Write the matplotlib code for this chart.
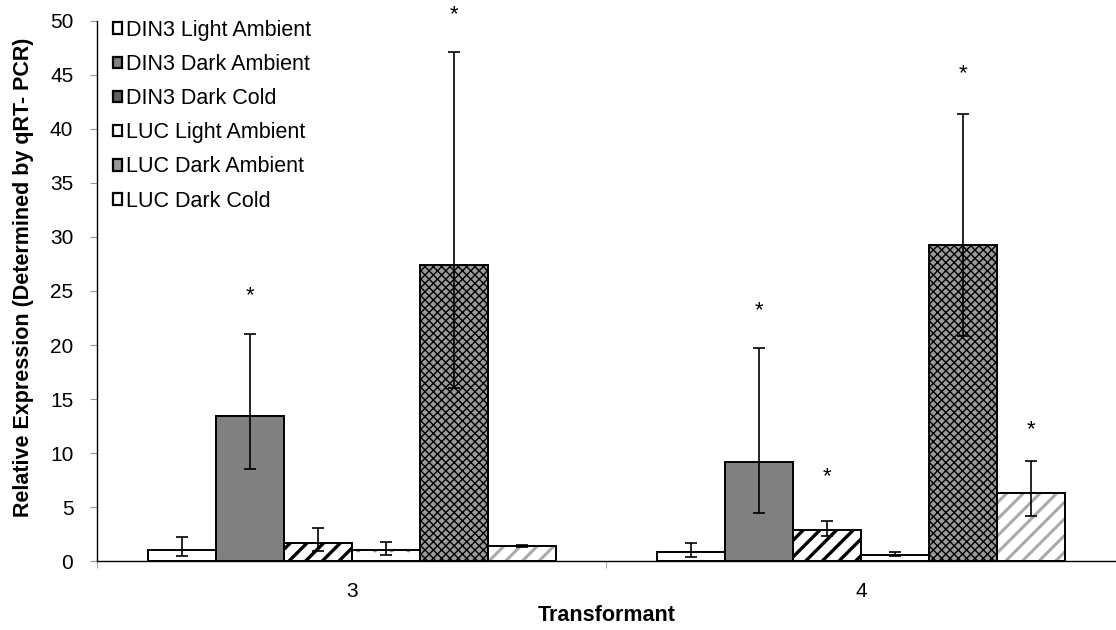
import numpy as np
import matplotlib
matplotlib.use("Agg")
import matplotlib.pyplot as plt

plt.rcParams['font.family'] = ['Liberation Sans', 'DejaVu Sans']

groups = ['3', '4']
series = ['DIN3 Light Ambient', 'DIN3 Dark Ambient', 'DIN3 Dark Cold',
          'LUC Light Ambient', 'LUC Dark Ambient', 'LUC Dark Cold']

# mean values per series, (group 3, group 4)
values = [[1.0, 0.8], [13.4, 9.2], [1.65, 2.9],
          [1.0, 0.6], [27.4, 29.3], [1.4, 6.3]]
err_low = [[0.55, 0.45], [4.9, 4.8], [0.75, 0.6],
           [0.45, 0.15], [11.4, 8.5], [0.1, 2.1]]
err_high = [[1.2, 0.9], [7.6, 10.5], [1.45, 0.85],
            [0.75, 0.25], [19.7, 12.1], [0.1, 3.0]]

# significance stars: (group index, series index, y)
star_group = [0, 0, 1, 1, 1, 1]
star_series = [1, 4, 1, 2, 4, 5]
star_y = [24.6, 50.6, 23.2, 7.8, 45.1, 12.2]

styles = [
    dict(facecolor='white', hatch=None, hcolor='black', hlw=1.0),
    dict(facecolor='#808080', hatch=None, hcolor='black', hlw=1.0),
    dict(facecolor='white', hatch='//', hcolor='black', hlw=2.4),
    dict(facecolor='white', hatch='.', hcolor='#888888', hlw=1.0),
    dict(facecolor='#9a9a9a', hatch='xxxx', hcolor='black', hlw=1.0),
    dict(facecolor='white', hatch='//', hcolor='#aaaaaa', hlw=2.2),
]

fig = plt.figure(figsize=(11.16, 6.3), dpi=100)
ax = fig.add_axes([0.0869, 0.1095, 0.9131, 0.8572])

x = np.arange(len(groups))
width = 0.8 / len(series)

handles = []
for i, name in enumerate(series):
    st = styles[i]
    pos = x - 0.4 + width * (i + 0.5)
    if st['hatch']:
        hb = ax.bar(pos, values[i], width, color=st['facecolor'],
                    edgecolor=st['hcolor'], hatch=st['hatch'], linewidth=0,
                    zorder=2)
        for p in hb:
            if hasattr(p, 'set_hatch_linewidth'):
                p.set_hatch_linewidth(st['hlw'])
    else:
        ax.bar(pos, values[i], width, color=st['facecolor'], linewidth=0,
               zorder=2)
    ax.bar(pos, values[i], width, fill=False, edgecolor='black',
           linewidth=1.4, zorder=3)
    ax.errorbar(pos, values[i], yerr=[err_low[i], err_high[i]], fmt='none',
                ecolor='black', elinewidth=1.2, capsize=4.5, capthick=1.2,
                zorder=4)
    face = st['facecolor']
    if st['hatch'] == '//' and st['hcolor'] == 'black':
        face = '#606060'
    h = plt.Rectangle((0, 0), 1, 1, facecolor=face,
                      edgecolor='black', linewidth=1.6)
    handles.append(h)

for g, s, y in zip(star_group, star_series, star_y):
    ax.text(x[g] - 0.4 + width * (s + 0.5), y, '*', ha='center',
            va='center', fontsize=16, clip_on=False)

ax.set_xlim(-0.5, 1.5)
ax.set_ylim(0, 50)
ax.set_yticks(range(0, 51, 5))
ax.set_xticks(x)
ax.set_xticklabels(groups)
ax.set_xticks([-0.5, 0.5], minor=True)
ax.tick_params(axis='x', which='major', length=0, pad=15, labelsize=15)
ax.tick_params(axis='x', which='minor', length=5, color='#999999',
               direction='out')
ax.tick_params(axis='y', length=5, color='#999999', direction='out',
               pad=12, labelsize=15)
for sp in ['top', 'right']:
    ax.spines[sp].set_visible(False)
ax.spines['left'].set_linewidth(1.0)
ax.spines['bottom'].set_linewidth(1.0)

ax.set_xlabel('Transformant', fontsize=15.5, fontweight='bold', labelpad=3)
ax.set_ylabel('Relative Expression (Determined by qRT- PCR)', fontsize=15.5,
              fontweight='bold')
ax.yaxis.set_label_coords(-0.062, 0.526)

ax.legend(handles, series, loc='upper left', bbox_to_anchor=(0.007, 1.018),
          frameon=False, fontsize=15.5, handlelength=0.45,
          handleheight=0.45, handletextpad=0.15, labelspacing=0.61,
          borderaxespad=0)

fig.savefig('out.png', dpi=100)
